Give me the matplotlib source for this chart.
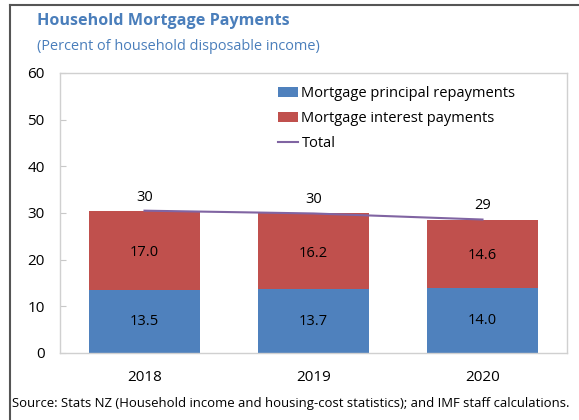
import matplotlib
matplotlib.use("Agg")
import matplotlib.pyplot as plt
from matplotlib.lines import Line2D

plt.rcParams['font.family'] = ['Open Sans', 'DejaVu Sans']

years = ["2018", "2019", "2020"]
principal = [13.5, 13.7, 14.0]
interest = [17.0, 16.2, 14.6]
total = [p + i for p, i in zip(principal, interest)]

blue = '#4f81bd'
red = '#c0504d'
purple = '#8064a2'
title_col = '#4a7ebb'

fig = plt.figure(figsize=(5.79, 4.2), dpi=100)
ax = fig.add_axes([60 / 579, 1 - 353 / 420, 507 / 579, 280 / 420])

x = range(len(years))
b1 = ax.bar(x, principal, width=0.66, color=blue, label='Mortgage principal repayments')
b2 = ax.bar(x, interest, width=0.66, bottom=principal, color=red, label='Mortgage interest payments')
ln, = ax.plot(x, total, color=purple, lw=1.5, label='Total')

for i in x:
    ax.text(i, principal[i] / 2, f'{principal[i]:.1f}', ha='center', va='center', fontsize=10.5)
    ax.text(i, principal[i] + interest[i] / 2 - 0.4, f'{interest[i]:.1f}', ha='center', va='center', fontsize=10.5)
    ax.text(i, total[i] + 1.3, f'{total[i]:.0f}', ha='center', va='bottom', fontsize=10.5)

ax.set_xlim(-0.5, 2.5)
ax.set_ylim(0, 60)
ax.set_yticks(range(0, 61, 10))
ax.set_xticks(list(x))
ax.set_xticklabels(years)
ax.tick_params(axis='y', direction='in', length=4, color='#c8c8c8', labelsize=11, pad=11)
ax.tick_params(axis='x', length=0, labelsize=11, pad=12)
for s in ax.spines.values():
    s.set_color('#d0d0d0')
    s.set_linewidth(1)

ax.legend(handles=[b1, b2, ln], loc='upper left', bbox_to_anchor=(0.41, 0.99), frameon=False,
          fontsize=10.5, handlelength=1.4, handletextpad=0.2, labelspacing=0.68, borderaxespad=0.3)

fig.text(37 / 579, 1 - 21 / 420, 'Household Mortgage Payments', color=title_col, fontsize=11.6,
         fontweight='bold', va='center')
fig.text(37 / 579, 1 - 46 / 420, '(Percent of household disposable income)', color=title_col,
         fontsize=10.45, va='center')
fig.text(12 / 579, 1 - 404 / 420,
         'Source: Stats NZ (Household income and housing-cost statistics); and IMF staff calculations.',
         fontsize=9.45, va='center')

# frame lines on left and top
fig.add_artist(Line2D([9.5 / 579, 9.5 / 579], [0, 1 - 5 / 420], color='#555555', lw=1.5))
fig.add_artist(Line2D([9.5 / 579, 1], [1 - 5 / 420, 1 - 5 / 420], color='#555555', lw=1.5))

plt.savefig('out.png', dpi=100)
plt.close()
